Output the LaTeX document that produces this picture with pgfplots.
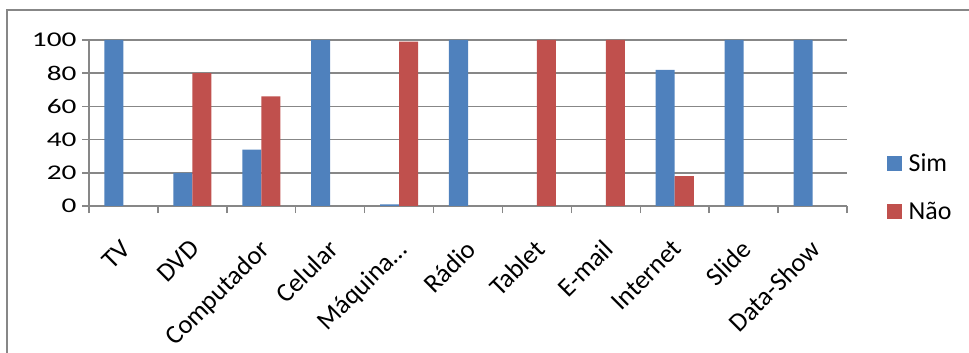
\documentclass[border=0pt]{standalone}
\usepackage{fontspec}
\setmainfont{Carlito}
\usepackage{graphicx}
\usepackage{pgfplots}
\pgfplotsset{compat=1.18}
\definecolor{simblue}{HTML}{4F81BD}
\definecolor{naored}{HTML}{C0504D}
\definecolor{gridgray}{HTML}{878787}
\begin{document}
\begin{tikzpicture}
\useasboundingbox (0,0) rectangle (969bp,353bp);
\draw[gridgray, line width=1.5bp] (7bp,0) -- (7bp,343bp) -- (969bp,343bp);
\begin{axis}[
  at={(89bp,147bp)}, anchor=south west,
  scale only axis, width=758bp, height=166bp,
  ymin=0, ymax=100, xmin=-0.5, xmax=10.5,
  ybar=0pt, bar width=0.276,
  axis lines*=left,
  axis line style={gridgray, line width=1.5bp, -},
  ytick={0,20,...,100},
  ymajorgrids, major grid style={gridgray, line width=1.5bp},
  xtick={0,...,10},
  xticklabels={TV,DVD,Computador,Celular,Máquina\ldots,Rádio,Tablet,E-mail,Internet,Slide,Data-Show},
  major x tick style={draw=none},
  minor xtick={-0.5,0.5,...,10.5},
  minor tick length=7bp, major tick length=7bp,
  tick align=outside,
  tick style={gridgray, line width=1.5bp},
  /pgf/number format/assume math mode=true,
  yticklabel={\scalebox{1.4}[1]{\pgfmathprintnumber{\tick}}},
  yticklabel style={font=\fontsize{21}{21}\selectfont, anchor=east, xshift=-2bp},
  xticklabel style={font=\fontsize{26.5}{26.5}\selectfont, rotate=45, anchor=north east, yshift=-12bp, xshift=-17bp},
  legend style={draw=none, fill=none, at={(1.052,0.336)}, anchor=north west,
    font=\fontsize{26}{26}\selectfont, row sep=23bp, inner sep=0pt,
    nodes={inner sep=3bp}},
  legend cell align=left,
  legend image code/.code={\fill[#1,draw=none] (0bp,-7.5bp) rectangle (15bp,7.5bp);},
]
\addplot[fill=simblue, draw=none] coordinates {
(0,100) (1,20) (2,34) (3,100) (4,1) (5,100) (6,0) (7,0) (8,82) (9,100) (10,100)};
\addplot[fill=naored, draw=none] coordinates {
(0,0) (1,80) (2,66) (3,0) (4,99) (5,0) (6,100) (7,100) (8,18) (9,0) (10,0)};
\legend{\hspace{4bp}Sim,\hspace{4bp}Não}
\end{axis}
\end{tikzpicture}
\end{document}
